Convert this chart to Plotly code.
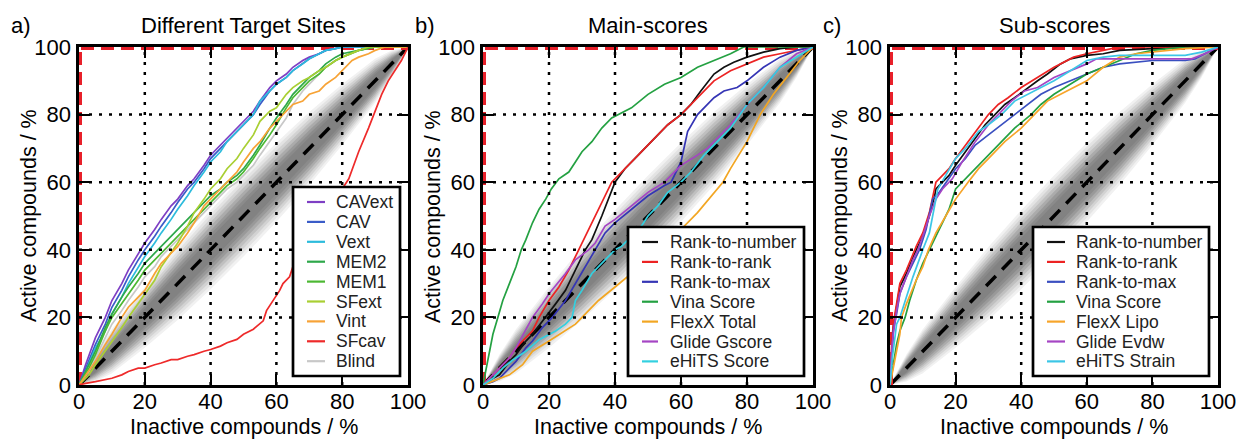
import plotly.graph_objects as go

# ---------------- data ----------------
tick_vals = [0, 20, 40, 60, 80, 100]
tick_text = ["0", "20", "40", "60", "80", "100"]

band_x = [0, 5, 10, 20, 30, 40, 50, 60, 70, 80, 90, 95, 100]
band_half = [0, 4, 6.5, 9, 10.8, 11.7, 12, 11.7, 10.8, 9, 6.5, 4, 0]

diag_x = [0, 100]
diag_y = [0, 100]
perfect_x = [0, 0, 100]
perfect_y = [0, 100, 100]

# Panel a) Different Target Sites
a_names = ["CAVext", "CAV", "Vext", "MEM2", "MEM1", "SFext", "Vint", "SFcav", "Blind"]
cav_x = [0, 2, 5, 8, 10, 13, 15, 18, 20, 23, 25, 28, 30, 33, 35, 38, 40, 43, 45, 48, 50, 53, 55, 58, 60, 63, 65, 68, 70, 73, 75, 78, 80, 100]
cavext_y = [0, 6, 14, 20, 25, 30, 34, 39, 42, 46, 49, 53, 55, 59, 61, 65, 68, 71, 73, 76, 78, 81, 84, 88, 90, 92, 94, 96, 97, 98, 99, 99.5, 100, 100]
cav_y = [0, 5, 12, 18, 23, 28, 32, 37, 40, 44, 47, 51, 54, 58, 60, 64, 67, 70, 72, 75, 77, 80, 83, 87, 89, 91, 93, 95, 96.5, 98, 99, 99.5, 100, 100]
vext_y = [0, 4, 11, 16, 21, 26, 30, 35, 38, 42, 45, 49, 52, 56, 59, 63, 66, 69, 72, 75, 77, 80, 84, 87, 89, 91, 93, 95, 96.5, 98, 99, 99.5, 100, 100]
mem_x = [0, 3, 5, 8, 10, 13, 15, 18, 20, 23, 25, 28, 30, 33, 35, 38, 40, 43, 45, 48, 50, 53, 55, 58, 60, 63, 65, 68, 70, 73, 75, 78, 80, 85, 90, 100]
mem2_y = [0, 6, 10, 17, 21, 26, 29, 33, 36, 39, 41, 44, 46, 49, 51, 54, 56, 58, 60, 62, 64, 68, 71, 76, 79, 83, 86, 89, 91, 93, 95, 97, 98, 99, 100, 100]
mem1_y = [0, 5, 9, 16, 20, 24, 27, 31, 34, 37, 39, 42, 44, 47, 49, 52, 54, 57, 59, 61, 63, 67, 70, 74, 77, 82, 85, 88, 90, 92, 94, 96, 97, 99, 100, 100]
blind_y = [0, 4, 8, 14, 18, 22, 25, 29, 32, 35, 38, 41, 43, 46, 48, 51, 53, 56, 58, 60, 62, 65, 68, 72, 75, 79, 83, 87, 89, 92, 94, 96, 97, 99, 100, 100]
sfext_x = [0, 3, 5, 8, 10, 13, 15, 18, 20, 23, 25, 28, 30, 33, 35, 38, 40, 43, 45, 48, 50, 53, 55, 58, 60, 63, 65, 68, 70, 73, 75, 78, 80, 85, 88, 100]
sfext_y = [0, 3, 6, 10, 13, 17, 20, 24, 27, 31, 35, 39, 42, 47, 51, 55, 58, 61, 64, 67, 70, 74, 78, 81, 82, 86, 88, 90, 91, 93, 94, 96, 97, 99, 100, 100]
vint_x = [0, 3, 5, 8, 10, 13, 15, 18, 20, 23, 25, 28, 30, 33, 35, 38, 40, 43, 45, 48, 50, 53, 55, 58, 60, 63, 65, 68, 70, 73, 75, 78, 80, 83, 85, 88, 90, 93, 100]
vint_y = [0, 4, 7, 12, 15, 20, 23, 26, 28, 33, 36, 39, 41, 45, 48, 53, 55, 58, 60, 63, 66, 70, 72, 76, 78, 81, 83, 84, 86, 87, 89, 91, 93, 96, 97, 98, 99, 100, 100]
sfcav_x = [0, 2, 5, 8, 10, 13, 15, 18, 20, 23, 25, 28, 30, 33, 35, 38, 40, 43, 45, 48, 50, 53, 56, 57, 59, 61, 62, 64, 65, 67, 70, 73, 75, 78, 80, 82, 85, 88, 90, 92, 94, 96, 98, 100]
sfcav_y = [0, 0.5, 1, 1.5, 2, 3, 4, 5, 5, 6, 6.5, 7.5, 7.5, 8.5, 9, 10, 10.5, 11.5, 12.5, 13.5, 15, 16.5, 19, 22, 25, 28, 30, 32, 35, 39, 44, 49, 52, 56, 58, 61, 69, 76, 81, 86, 90, 93, 96, 100]
a_colors = ["#7e3fc4", "#3a5cc8", "#2cbbdc", "#2ea84a", "#4cb833", "#a9cf33", "#f7a336", "#ee2a2a", "#c8c8c8"]

# Panel b) Main-scores
b_names = ["Rank-to-number", "Rank-to-rank", "Rank-to-max", "Vina Score", "FlexX Total", "Glide Gscore", "eHiTS Score"]
b_r2n_x = [0, 3, 5, 8, 10, 13, 15, 19, 22, 25, 28, 31, 33, 36, 40, 43, 46, 50, 53, 56, 60, 63, 66, 70, 73, 76, 80, 85, 90, 95, 100]
b_r2n_y = [0, 2, 3, 7, 9, 13, 15, 20, 24, 28, 34, 40, 43, 50, 60, 64, 67, 71, 74, 77, 80, 83, 87, 92, 94, 95.5, 97, 98.5, 99.5, 100, 100]
b_r2r_x = [0, 3, 5, 8, 10, 13, 15, 17, 20, 23, 26, 29, 32, 35, 39, 42, 45, 50, 53, 56, 60, 63, 66, 70, 75, 80, 85, 90, 95, 100]
b_r2r_y = [0, 3, 5, 8, 11, 14, 16, 20, 25, 29, 34, 40, 46, 52, 60, 63, 66, 71, 74, 77, 80, 83, 86, 90, 93, 95, 97, 98, 99, 100]
b_r2m_x = [0, 3, 5, 8, 10, 13, 15, 18, 21, 25, 28, 31, 34, 37, 40, 45, 50, 55, 57, 60, 62, 65, 67, 70, 73, 77, 80, 85, 90, 95, 100]
b_r2m_y = [0, 1, 2, 5, 7, 11, 13, 17, 20, 25, 30, 35, 40, 45, 48, 52, 56, 59, 60, 66, 75, 80, 82, 85, 87, 88, 90, 94, 97, 99, 100]
b_vina_x = [0, 1, 2, 3, 4.5, 6, 8, 10, 11.6, 13, 15, 17, 19, 20.7, 23, 26, 28, 30, 33, 36, 39, 42, 45, 50, 55, 60, 65, 70, 75, 79, 100]
b_vina_y = [0, 5, 10, 15, 20, 25, 30, 35, 40, 43, 48, 52, 55, 58, 61, 63, 66, 69, 72, 76, 79, 80.5, 82, 86, 89, 91, 94, 96, 98, 100, 100]
b_flexx_x = [0, 4, 8, 12, 15, 20, 25, 28, 30, 35, 40, 45, 50, 56.6, 60, 65, 70, 72.7, 75, 80, 84, 88, 92, 96, 100]
b_flexx_y = [0, 1.5, 3, 6, 10, 13, 16, 18, 20, 25, 29, 33, 37, 41, 46, 51, 57, 60, 64, 72, 80, 86, 91, 96, 100]
b_glide_x = [0, 3, 5, 8, 10, 15, 18, 20, 25, 28, 32, 34, 37, 40, 45, 50, 55, 58, 60, 65, 68, 71, 75, 81, 85, 90, 95, 100]
b_glide_y = [0, 3, 5, 8, 11, 20, 24, 27, 33, 37, 40, 42, 47, 49, 53, 57, 60, 63, 65, 68, 70, 73, 77, 84, 88, 94, 98, 100]
b_ehits_x = [0, 3, 6, 9, 13, 17, 22, 25, 27, 28, 30, 33, 37, 40, 42, 45, 48, 50, 53, 56, 60, 63, 67, 71, 75, 80, 85, 90, 95, 100]
b_ehits_y = [0, 2, 5, 7.4, 10, 13.4, 16, 18, 20, 25, 28, 33, 37, 40, 41, 44, 47, 50, 53, 57, 60, 63, 68, 72, 76, 83, 88, 94, 97, 100]
b_colors = ["#111111", "#ec2323", "#3535b5", "#24a142", "#f2a623", "#a545c4", "#33d0e0"]

# Panel c) Sub-scores
c_names = ["Rank-to-number", "Rank-to-rank", "Rank-to-max", "Vina Score", "FlexX Lipo", "Glide Evdw", "eHiTS Strain"]
c_r2n_x = [0, 0.5, 1, 2, 3, 5, 7, 8, 10, 12, 13.6, 14, 16, 18, 20, 23, 26, 29, 32, 35, 38, 42, 45, 48, 52, 55, 60, 65, 70, 80, 90, 100]
c_r2n_y = [0, 10, 17, 23, 29, 33, 38, 40, 44, 50, 56, 58, 60, 62, 65, 69, 73, 77, 80, 83, 85, 88, 90, 92, 95, 96.5, 97.5, 98, 99, 99.5, 100, 100]
c_r2r_x = [0, 0.5, 1, 2, 3, 5, 7, 8, 10, 12, 14, 16, 18, 20, 23, 26, 30, 33, 36, 40, 45, 50, 56, 60, 65, 70, 100]
c_r2r_y = [0, 12, 18, 24, 30, 34, 39, 41, 45, 51, 60, 62, 64, 67, 71, 75, 80, 83, 85, 88, 91, 94, 97, 98, 99, 100, 100]
c_r2m_x = [0, 0.5, 1, 2, 3, 5, 7, 9, 11, 13, 15, 18, 20, 23, 26, 30, 34, 38, 42, 46, 50, 55, 60, 65, 70, 75, 80, 90, 93, 96, 100]
c_r2m_y = [0, 10, 16, 21, 27, 32, 36, 40, 46, 55, 57, 61, 64, 67, 71, 74, 77, 80, 83, 86, 88, 90, 92, 94, 95, 95.5, 96, 96, 96.5, 98, 100]
c_vina_x = [0, 1, 2, 3, 4.6, 6, 8, 10, 12, 15, 18, 20, 23, 26, 30, 34, 38, 43, 46, 50, 55, 60, 65, 70, 75, 80, 90, 100]
c_vina_y = [0, 6, 12, 16, 20, 25, 31, 36, 40, 46, 52, 58, 61, 64, 68, 72, 76, 80, 83, 86, 89, 92, 94, 96, 98, 99, 100, 100]
c_flexx_x = [0, 1, 2, 3, 3.5, 5, 8, 10, 11.7, 14, 17, 20, 23.8, 27, 30, 35, 40, 44, 48, 52, 56, 60, 65, 70, 75, 80, 85, 90, 100]
c_flexx_y = [0, 5, 10, 15, 20, 24, 31, 35, 40, 45, 50, 55, 60, 64, 67, 72, 76, 80, 84, 86, 88, 90, 94, 97, 98, 98.5, 99, 99.5, 100]
c_glide_x = [0, 0.5, 1, 2, 3, 5, 7, 8.5, 10, 12, 14, 16, 19, 22, 26, 30, 33, 37, 41, 45, 50, 55, 60, 63, 70, 80, 92, 96, 100]
c_glide_y = [0, 10, 15, 22, 27, 32, 37, 40, 44, 50, 55, 58, 61, 66, 72, 77, 80, 84, 87, 88, 91, 93, 95, 96.5, 96.5, 96.5, 96.5, 98, 100]
c_ehits_x = [0, 0.7, 1.5, 2, 3, 5, 7, 10, 12, 13, 14.6, 17, 20, 23, 27, 30, 34, 38, 42, 46, 50, 55, 60, 65, 70, 80, 90, 95, 100]
c_ehits_y = [0, 8, 14, 18, 20, 26, 32, 40, 45, 50, 58, 62, 67, 70, 75, 77, 80, 84, 86, 88, 90, 93, 96, 97, 97.5, 97.5, 97.5, 98.5, 100]
c_colors = ["#111111", "#ec2323", "#3a4fc0", "#24a142", "#f7a52a", "#a545c4", "#3cc6e6"]

panel_titles = ["Different Target Sites", "Main-scores", "Sub-scores"]
panel_letters = ["a)", "b)", "c)"]
x_title = "Inactive compounds / %"
y_title = "Active compounds / %"

# ---------------- style / layout ----------------
W, H = 1237, 439
FONT = "Liberation Sans, Arial, Helvetica, sans-serif"
x_domains = [(79 / W, 408 / W), (483 / W, 813 / W), (890 / W, 1218 / W)]
y_domain = (1 - 385 / H, 1 - 47 / H)
band_layers = [(1.0, "#f1f1f1"), (0.9, "#e3e3e3"), (0.8, "#d2d2d2"), (0.7, "#bfbfbf"),
               (0.6, "#ababab"), (0.5, "#999999"), (0.4, "#8b8b8b"), (0.3, "#828282")]

# legend boxes in pixels: (left, top, right, bottom, line_x0, line_x1, text_x, first_row_y)
legend_px = [(293, 187, 400, 376, 307, 325, 334, 202),
             (628, 227, 804, 376, 642, 658, 668, 242),
             (1033, 227, 1209, 376, 1047, 1065, 1074, 242)]
ROW = 19.9


def px(v):
    return v / W


def py(v):
    return 1 - v / H


fig = go.Figure()

panels = [
    (a_names, [(cav_x, cavext_y), (cav_x, cav_y), (cav_x, vext_y), (mem_x, mem2_y), (mem_x, mem1_y),
               (sfext_x, sfext_y), (vint_x, vint_y), (sfcav_x, sfcav_y), (mem_x, blind_y)], a_colors),
    (b_names, [(b_r2n_x, b_r2n_y), (b_r2r_x, b_r2r_y), (b_r2m_x, b_r2m_y), (b_vina_x, b_vina_y),
               (b_flexx_x, b_flexx_y), (b_glide_x, b_glide_y), (b_ehits_x, b_ehits_y)], b_colors),
    (c_names, [(c_r2n_x, c_r2n_y), (c_r2r_x, c_r2r_y), (c_r2m_x, c_r2m_y), (c_vina_x, c_vina_y),
               (c_flexx_x, c_flexx_y), (c_glide_x, c_glide_y), (c_ehits_x, c_ehits_y)], c_colors),
]

grid_shapes = []
legend_shapes = []
annotations = []
layout_axes = {}

for p, (names, series, colors) in enumerate(panels):
    sfx = "" if p == 0 else str(p + 1)
    xa, ya = "x" + sfx, "y" + sfx

    # gray random band
    for f, col in band_layers:
        up = [min(100, bx + f * h) for bx, h in zip(band_x, band_half)]
        lo = [max(0, bx - f * h) for bx, h in zip(band_x, band_half)]
        fig.add_trace(go.Scatter(x=band_x + band_x[::-1], y=up + lo[::-1], fill="toself",
                                 fillcolor=col, line=dict(width=0), mode="lines",
                                 hoverinfo="skip", showlegend=False, xaxis=xa, yaxis=ya))
    fig.add_trace(go.Scatter(x=diag_x, y=diag_y, mode="lines", showlegend=False,
                             line=dict(color="black", width=3.5, dash="14px,9px"),
                             xaxis=xa, yaxis=ya))
    fig.add_trace(go.Scatter(x=perfect_x, y=perfect_y, mode="lines", showlegend=False,
                             line=dict(color="#e8202a", width=6, dash="13px,7px"),
                             xaxis=xa, yaxis=ya))
    order = list(range(len(names)))
    if p == 0:
        order = [len(names) - 1] + order[:-1]
    for i in order:
        sx, sy = series[i]
        fig.add_trace(go.Scatter(x=sx, y=sy, mode="lines", name=names[i], showlegend=False,
                                 line=dict(color=colors[i], width=1.7), xaxis=xa, yaxis=ya))

    dom = x_domains[p]
    common = dict(range=[0, 100], showline=True, linecolor="black", linewidth=2.7,
                  mirror="allticks", ticks="inside", ticklen=11, tickwidth=2, tickcolor="black",
                  tickvals=tick_vals, ticktext=tick_text, showgrid=False, zeroline=False,
                  tickfont=dict(family=FONT, size=22, color="black"), fixedrange=True)
    layout_axes["xaxis" + sfx] = dict(domain=list(dom), anchor=ya, ticklabelstandoff=-5, **common)
    layout_axes["yaxis" + sfx] = dict(domain=list(y_domain), anchor=xa, ticklabelstandoff=1, **common)

    for g in tick_vals[1:-1]:
        grid_shapes.append(dict(type="line", xref=xa, yref=ya, x0=g, x1=g, y0=0, y1=100, layer="above",
                                line=dict(color="black", width=2.5, dash="3px,7px")))
        grid_shapes.append(dict(type="line", xref=xa, yref=ya, x0=0, x1=100, y0=g, y1=g, layer="above",
                                line=dict(color="black", width=2.5, dash="3px,7px")))

    # legend box (drawn by hand so rows match the tight spacing of the reference)
    L, T, R, B, lx0, lx1, tx, ry = legend_px[p]
    legend_shapes.append(dict(type="rect", xref="paper", yref="paper", x0=px(L), x1=px(R),
                              y0=py(B), y1=py(T), layer="above", fillcolor="white",
                              line=dict(color="black", width=2.7)))
    for i, nm in enumerate(names):
        yy = ry + i * ROW
        legend_shapes.append(dict(type="line", xref="paper", yref="paper", x0=px(lx0), x1=px(lx1),
                                  y0=py(yy), y1=py(yy), layer="above",
                                  line=dict(color=colors[i], width=2.2)))
        annotations.append(dict(text=nm, x=px(tx), y=py(yy), xref="paper", yref="paper",
                                showarrow=False, xanchor="left", yanchor="middle",
                                font=dict(family=FONT, size=17.5, color="#222222")))

    cx = (dom[0] + dom[1]) / 2
    annotations.append(dict(text=panel_titles[p], x=cx, y=py(25), xref="paper", yref="paper",
                            showarrow=False, xanchor="center", yanchor="middle",
                            font=dict(family=FONT, size=22, color="black")))
    annotations.append(dict(text=x_title, x=cx, y=py(427), xref="paper", yref="paper",
                            showarrow=False, xanchor="center", yanchor="middle",
                            font=dict(family=FONT, size=21.5, color="black")))
    annotations.append(dict(text=y_title, x=dom[0] - 50 / W, y=(y_domain[0] + y_domain[1]) / 2,
                            xref="paper", yref="paper", showarrow=False, textangle=-90,
                            xanchor="center", yanchor="middle",
                            font=dict(family=FONT, size=21.5, color="black")))
    annotations.append(dict(text=panel_letters[p], x=dom[0] - 58 / W, y=py(25), xref="paper",
                            yref="paper", showarrow=False, xanchor="center", yanchor="middle",
                            font=dict(family=FONT, size=22, color="black")))

fig.update_layout(width=W, height=H, margin=dict(l=0, r=0, t=0, b=0, autoexpand=False),
                  paper_bgcolor="white", plot_bgcolor="white", shapes=grid_shapes + legend_shapes,
                  annotations=annotations, showlegend=False, **layout_axes)

fig.write_html("out.html", config={"displayModeBar": False, "staticPlot": True},
               post_script="document.body.style.margin='0';document.body.style.padding='0';"
                           "document.documentElement.style.overflow='hidden';")
